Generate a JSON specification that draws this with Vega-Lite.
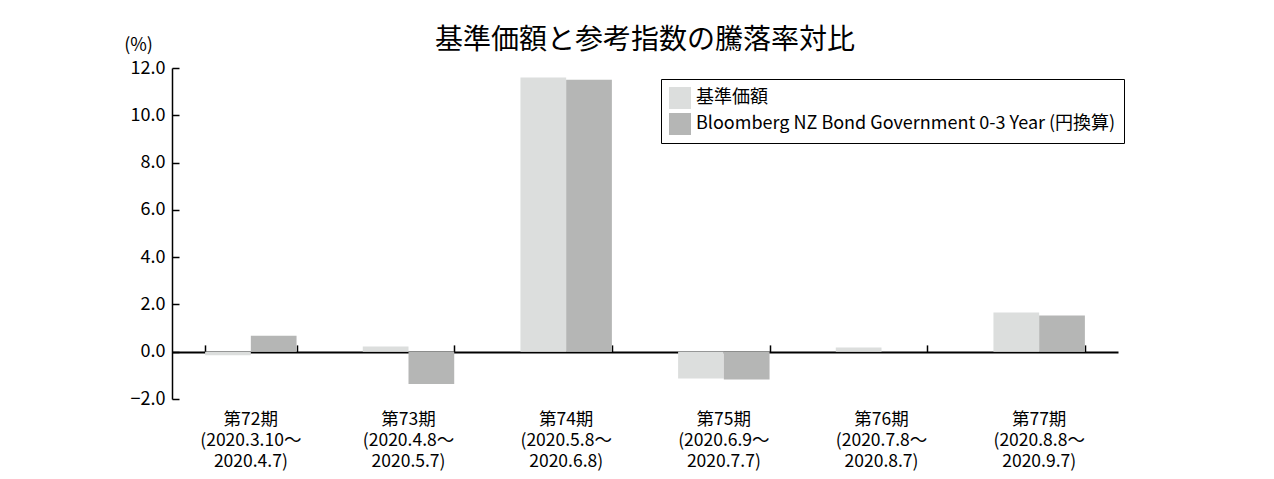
{
  "$schema": "https://vega.github.io/schema/vega-lite/v6.json",
  "width": 946,
  "height": 331,
  "autosize": {"type": "none"},
  "padding": {"left": 172, "top": 68, "right": 156, "bottom": 80},
  "background": "white",
  "config": {
    "font": "Noto Sans CJK JP",
    "view": {"stroke": null},
    "axis": {"grid": false, "labelColor": "#000", "domainColor": "#000", "tickColor": "#000", "titleColor": "#000"}
  },
  "title": {
    "text": "基準価額と参考指数の騰落率対比",
    "fontSize": 28,
    "fontWeight": "normal",
    "anchor": "middle",
    "offset": -19,
    "color": "#000"
  },
  "data": {
    "values": [
      {"period": "第72期|(2020.3.10～|2020.4.7)", "series": "基準価額", "value": -0.15},
      {"period": "第72期|(2020.3.10～|2020.4.7)", "series": "Bloomberg NZ Bond Government 0-3 Year (円換算)", "value": 0.68},
      {"period": "第73期|(2020.4.8～|2020.5.7)", "series": "基準価額", "value": 0.22},
      {"period": "第73期|(2020.4.8～|2020.5.7)", "series": "Bloomberg NZ Bond Government 0-3 Year (円換算)", "value": -1.37},
      {"period": "第74期|(2020.5.8～|2020.6.8)", "series": "基準価額", "value": 11.6},
      {"period": "第74期|(2020.5.8～|2020.6.8)", "series": "Bloomberg NZ Bond Government 0-3 Year (円換算)", "value": 11.5},
      {"period": "第75期|(2020.6.9～|2020.7.7)", "series": "基準価額", "value": -1.13},
      {"period": "第75期|(2020.6.9～|2020.7.7)", "series": "Bloomberg NZ Bond Government 0-3 Year (円換算)", "value": -1.17},
      {"period": "第76期|(2020.7.8～|2020.8.7)", "series": "基準価額", "value": 0.18},
      {"period": "第76期|(2020.7.8～|2020.8.7)", "series": "Bloomberg NZ Bond Government 0-3 Year (円換算)", "value": 0.0},
      {"period": "第77期|(2020.8.8～|2020.9.7)", "series": "基準価額", "value": 1.66},
      {"period": "第77期|(2020.8.8～|2020.9.7)", "series": "Bloomberg NZ Bond Government 0-3 Year (円換算)", "value": 1.53}
    ]
  },
  "resolve": {"axis": {"x": "independent"}},
  "layer": [
    {
      "mark": {"type": "bar"},
      "encoding": {
        "x": {
          "field": "period",
          "type": "nominal",
          "sort": null,
          "scale": {"paddingInner": 0.42, "paddingOuter": 0.21},
          "axis": {
            "orient": "bottom",
            "title": null,
            "domain": false,
            "ticks": false,
            "labelAngle": 0,
            "labelFontSize": 17.5,
            "labelLineHeight": 21,
            "labelPadding": 11,
            "labelBaseline": "top",
            "labelExpr": "split(datum.label, '|')"
          }
        },
        "xOffset": {
          "field": "series",
          "type": "nominal",
          "sort": ["基準価額", "Bloomberg NZ Bond Government 0-3 Year (円換算)"],
          "scale": {"paddingInner": 0, "paddingOuter": 0}
        },
        "y": {
          "field": "value",
          "type": "quantitative",
          "scale": {"domain": [-2, 12], "nice": false, "zero": false},
          "axis": {
            "values": [-2, 0, 2, 4, 6, 8, 10, 12],
            "format": ".1f",
            "title": "(%)",
            "titleAngle": 0,
            "titleFontSize": 18,
            "titleFontWeight": "normal",
            "titleAlign": "center",
            "titleBaseline": "middle",
            "titleX": -34,
            "titleY": -23,
            "labelFontSize": 18,
            "tickSize": -7,
            "labelPadding": 14,
            "domainWidth": 1.5,
            "tickWidth": 1.5
          }
        },
        "color": {
          "field": "series",
          "type": "nominal",
          "sort": ["基準価額", "Bloomberg NZ Bond Government 0-3 Year (円換算)"],
          "scale": {"range": ["#dcdedd", "#b5b6b5"]},
          "legend": {
            "title": null,
            "orient": "none",
            "legendX": 489,
            "legendY": 11,
            "strokeColor": "#000",
            "fillColor": "#fff",
            "padding": 8,
            "symbolType": "square",
            "symbolSize": 484,
            "symbolStrokeWidth": 0,
            "labelFontSize": 18,
            "labelColor": "#000",
            "labelOffset": 5,
            "rowPadding": 4,
            "labelLimit": 600
          }
        }
      }
    },
    {
      "mark": {"type": "bar", "opacity": 0},
      "encoding": {
        "x": {
          "field": "period",
          "type": "nominal",
          "sort": null,
          "scale": {"paddingInner": 0.42, "paddingOuter": 0.21},
          "axis": {
            "orient": "top",
            "offset": -283.9,
            "title": null,
            "labels": false,
            "tickBand": "extent",
            "tickSize": 7,
            "tickWidth": 1.5,
            "domainWidth": 2
          }
        }
      }
    }
  ]
}
